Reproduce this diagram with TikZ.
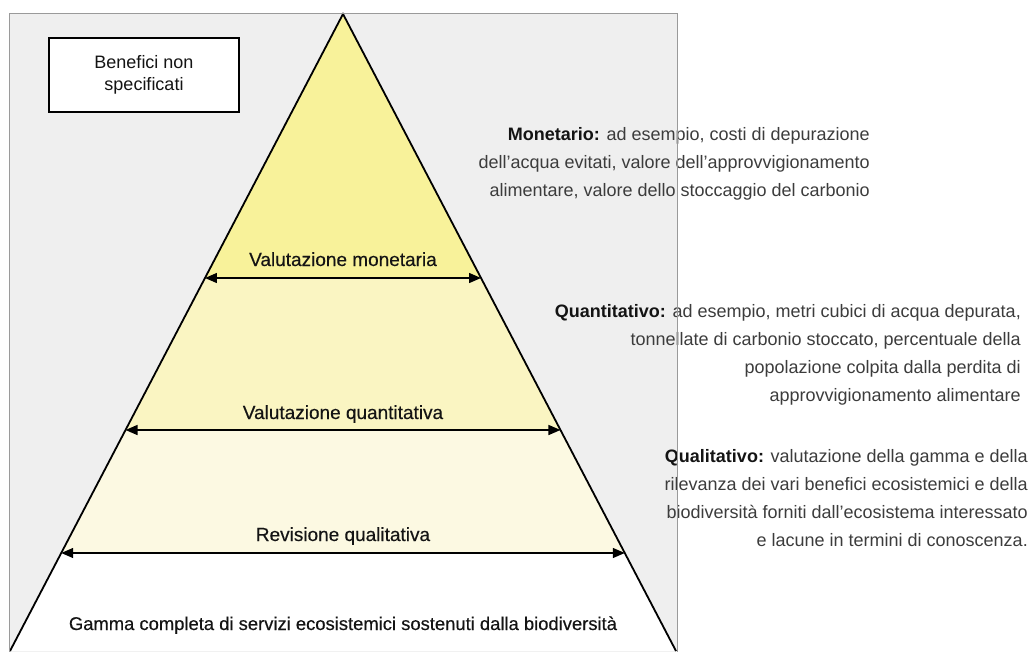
\documentclass[tikz,border=0pt]{standalone}
\usepackage{fontspec}
\setmainfont{Liberation Sans}
\newfontfamily\lvlfont[FakeBold=0.35]{Liberation Sans}
\usetikzlibrary{arrows.meta,calc}
\definecolor{bggray}{HTML}{EFEFEF}
\definecolor{framegray}{HTML}{9A9A9A}
\definecolor{bandone}{HTML}{F8F29A}
\definecolor{bandtwo}{HTML}{FAF5C2}
\definecolor{bandthree}{HTML}{FCF9E2}
\definecolor{txtgray}{HTML}{3C3C3C}
\definecolor{txtdark}{HTML}{141414}
\begin{document}
\begin{tikzpicture}[x=1pt,y=-1pt,
  lvl/.style={font=\lvlfont\fontsize{19}{22}\selectfont, text=txtdark, inner sep=0pt, anchor=base},
  side/.style={font=\fontsize{18}{28}\selectfont, text=txtgray, align=right, inner sep=0pt, anchor=north east},
  measarrow/.style={{Triangle[length=12pt,width=10pt]}-{Triangle[length=12pt,width=10pt]}, line width=1.4pt, black},
  pyrline/.style={line width=1.8pt, black, line join=miter},
  boxnode/.style={draw=black, line width=1.2pt, fill=white, minimum width=190pt, minimum height=74pt, align=center, font=\fontsize{18}{22}\selectfont, text=txtdark}
]
\useasboundingbox (0,0) rectangle (1032,651);
\fill[bggray] (9,13) rectangle (677,660);
\coordinate (A) at (343,14);
\coordinate (BL) at (10,651);
\coordinate (BR) at (676,651);
\coordinate (mL) at ($(A)!0.41444!(BL)$);
\coordinate (mR) at ($(A)!0.41444!(BR)$);
\coordinate (qL) at ($(A)!0.65306!(BL)$);
\coordinate (qR) at ($(A)!0.65306!(BR)$);
\coordinate (rL) at ($(A)!0.84615!(BL)$);
\coordinate (rR) at ($(A)!0.84615!(BR)$);
\fill[bandone] (A) -- (mR) -- (mL) -- cycle;
\fill[bandtwo] (mL) -- (mR) -- (qR) -- (qL) -- cycle;
\fill[bandthree] (qL) -- (qR) -- (rR) -- (rL) -- cycle;
\fill[white] (rL) -- (rR) -- (BR) -- (BL) -- cycle;
\draw[pyrline] (BL) -- (A) -- (BR);
\draw[measarrow] (mL) -- (mR);
\draw[measarrow] (qL) -- (qR);
\draw[measarrow] (rL) -- (rR);
\node[lvl] (lm) at (343,266) {Valutazione monetaria};
\node[lvl] (lq) at (343,419) {Valutazione quantitativa};
\node[lvl] (lr) at (343,541) {Revisione qualitativa};
\node[lvl, font=\lvlfont\fontsize{18.4}{22}\selectfont] (lg) at (343,630) {Gamma completa di servizi ecosistemici sostenuti dalla biodiversità};
\node[boxnode] (ben) at (144,75) {Benefici non\\specificati};
\node[side] (mon) at (870,127) {{\bfseries\color{txtdark}Monetario:} ad esempio, costi di depurazione\\dell’acqua evitati, valore dell’approvvigionamento\\alimentare, valore dello stoccaggio del carbonio};
\node[side] (qua) at (1021,304) {{\bfseries\color{txtdark}Quantitativo:} ad esempio, metri cubici di acqua depurata,\\tonnellate di carbonio stoccato, percentuale della\\popolazione colpita dalla perdita di\\approvvigionamento alimentare};
\node[side] (qual) at (1028,449) {{\bfseries\color{txtdark}Qualitativo:} valutazione della gamma e della\\rilevanza dei vari benefici ecosistemici e della\\biodiversità forniti dall’ecosistema interessato\\e lacune in termini di conoscenza.};
\draw[framegray, line width=1pt] (9,660) -- (9,13) -- (677,13) -- (677,660);
\end{tikzpicture}
\end{document}
